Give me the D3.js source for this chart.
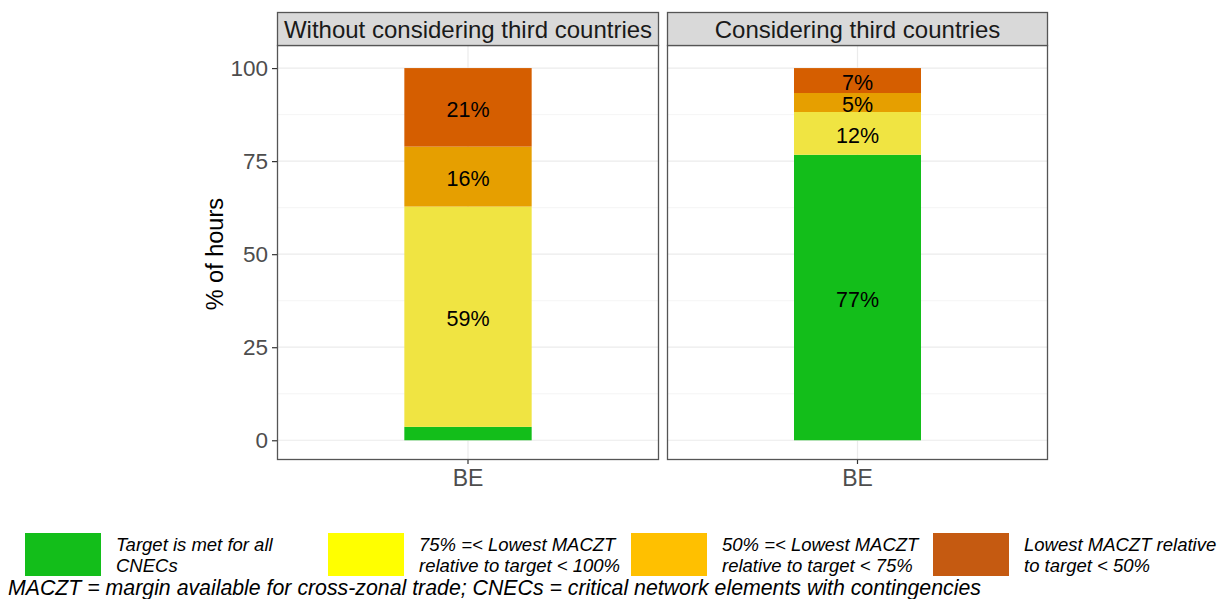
<!DOCTYPE html>
<html>
<head>
<meta charset="utf-8">
<script src="https://cdn.jsdelivr.net/npm/d3@7"></script>
<style>
  html, body { margin: 0; padding: 0; background: #fff; }
  svg { display: block; font-family: "Liberation Sans", Arial, sans-serif; }
</style>
</head>
<body>
<svg id="chart" width="1227" height="599"></svg>
<script>
// Facet panels and the single category on the x axis
const panels = ["Without considering third countries", "Considering third countries"];
const categories = ["BE"];

// Bands stacked bottom-up: met, 75-100%, 50-75%, <50%
const bands = ["met", "p75", "p50", "low"];
const withoutThird = [3.6, 59.2, 16.1, 21.1];
const withThird = [76.7, 11.5, 5.1, 6.7];

const barColors = ["#13be1a", "#f0e442", "#e69f00", "#d55e00"];
const legendColors = ["#13be1a", "#ffff00", "#ffc000", "#c55a11"];
const legendLabels = [
  ["Target is met for all", "CNECs"],
  ["75% =< Lowest MACZT", "relative to target < 100%"],
  ["50% =< Lowest MACZT", "relative to target < 75%"],
  ["Lowest MACZT relative", "to target < 50%"]
];
const yTicks = [0, 25, 50, 75, 100];
const yMinor = [12.5, 37.5, 62.5, 87.5];
const footnote = "MACZT = margin available for cross-zonal trade; CNECs = critical network elements with contingencies";

const seriesByPanel = [withoutThird, withThird];

const svg = d3.select("#chart");

const panelTop = 45, panelBottom = 460, stripTop = 12;
const panelX = [[277, 659], [667, 1048]];

const y = d3.scaleLinear().domain([-5.3, 106.2]).range([panelBottom, panelTop]);

panels.forEach((title, pi) => {
  const [x0, x1] = panelX[pi];
  const x = d3.scaleBand().domain(categories).range([x0, x1]).paddingInner(0).paddingOuter(0);
  // bar width 0.4 of a unit in a 1.2-unit wide discrete axis
  const barW = (x1 - x0) * 0.4 / 1.2;
  const g = svg.append("g");

  // minor grid
  g.selectAll(".minor").data(yMinor).join("line")
    .attr("x1", x0).attr("x2", x1)
    .attr("y1", d => y(d)).attr("y2", d => y(d))
    .attr("stroke", "#f2f2f2").attr("stroke-width", 0.8);
  // major grid
  g.selectAll(".major").data(yTicks).join("line")
    .attr("x1", x0).attr("x2", x1)
    .attr("y1", d => y(d)).attr("y2", d => y(d))
    .attr("stroke", "#ebebeb").attr("stroke-width", 1.2);
  // vertical grid at category
  g.selectAll(".vgrid").data(categories).join("line")
    .attr("x1", d => x(d) + x.bandwidth() / 2).attr("x2", d => x(d) + x.bandwidth() / 2)
    .attr("y1", panelTop).attr("y2", panelBottom)
    .attr("stroke", "#ebebeb").attr("stroke-width", 1.2);

  // stacked bars
  const vals = seriesByPanel[pi];
  const row = {};
  bands.forEach((b, i) => row[b] = vals[i]);
  const stacked = d3.stack().keys(bands)([row]);
  const cx = x(categories[0]) + x.bandwidth() / 2;

  stacked.forEach((layer, i) => {
    const d = layer[0];
    g.append("rect")
      .attr("x", cx - barW / 2).attr("width", barW)
      .attr("y", y(d[1])).attr("height", y(d[0]) - y(d[1]))
      .attr("fill", barColors[i]);
  });
  stacked.forEach((layer, i) => {
    const d = layer[0];
    const v = d[1] - d[0];
    if (v < 4) return;
    g.append("text")
      .attr("x", cx).attr("y", y((d[0] + d[1]) / 2))
      .attr("dy", "0.43em")
      .attr("text-anchor", "middle")
      .attr("font-size", 21.5)
      .attr("fill", "#000")
      .text(Math.round(v) + "%");
  });

  // panel border
  g.append("rect").attr("x", x0 + 0.5).attr("y", panelTop + 0.5)
    .attr("width", x1 - x0 - 1).attr("height", panelBottom - panelTop - 1)
    .attr("fill", "none").attr("stroke", "#555").attr("stroke-width", 1.3);

  // strip
  g.append("rect").attr("x", x0 + 0.5).attr("y", stripTop + 0.5)
    .attr("width", x1 - x0 - 1).attr("height", panelTop - stripTop)
    .attr("fill", "#d9d9d9").attr("stroke", "#555").attr("stroke-width", 1.3);
  g.append("text")
    .attr("x", (x0 + x1) / 2).attr("y", (stripTop + panelTop) / 2 + 1)
    .attr("dy", "0.36em").attr("text-anchor", "middle")
    .attr("font-size", 24).attr("fill", "#1a1a1a")
    .text(title);

  // x axis
  const xAxis = d3.axisBottom(x).tickSize(4).tickPadding(6);
  const xa = svg.append("g").attr("transform", `translate(0,${panelBottom})`).call(xAxis);
  xa.select(".domain").remove();
  xa.selectAll(".tick line").attr("stroke", "#333").attr("stroke-width", 1.2);
  xa.selectAll(".tick text").attr("font-size", 23).attr("fill", "#4d4d4d")
    .attr("font-family", "Liberation Sans, Arial, sans-serif");
});

// y axis on the first panel
const yAxis = d3.axisLeft(y).tickValues(yTicks).tickSize(5).tickPadding(4);
const ya = svg.append("g").attr("transform", `translate(${panelX[0][0]},0)`).call(yAxis);
ya.select(".domain").remove();
ya.selectAll(".tick line").attr("stroke", "#333").attr("stroke-width", 1.2);
ya.selectAll(".tick text").attr("font-size", 22.5).attr("fill", "#4d4d4d")
  .attr("font-family", "Liberation Sans, Arial, sans-serif");

svg.append("text")
  .attr("transform", `translate(223,${(y(0) + y(100)) / 2}) rotate(-90)`)
  .attr("text-anchor", "middle").attr("font-size", 23.5).attr("fill", "#000")
  .text("% of hours");

// legend
const legendX = [25, 328, 631, 933];
legendLabels.forEach((lines, i) => {
  svg.append("rect").attr("x", legendX[i]).attr("y", 533)
    .attr("width", 76).attr("height", 43).attr("fill", legendColors[i]);
  lines.forEach((t, j) => {
    svg.append("text").attr("x", legendX[i] + 91).attr("y", 551 + j * 21)
      .attr("font-size", 18.5).attr("font-style", "italic").attr("fill", "#000")
      .text(t);
  });
});

svg.append("text").attr("x", 8).attr("y", 595)
  .attr("font-size", 21.3).attr("font-style", "italic").attr("fill", "#000")
  .text(footnote);
</script>
</body>
</html>
